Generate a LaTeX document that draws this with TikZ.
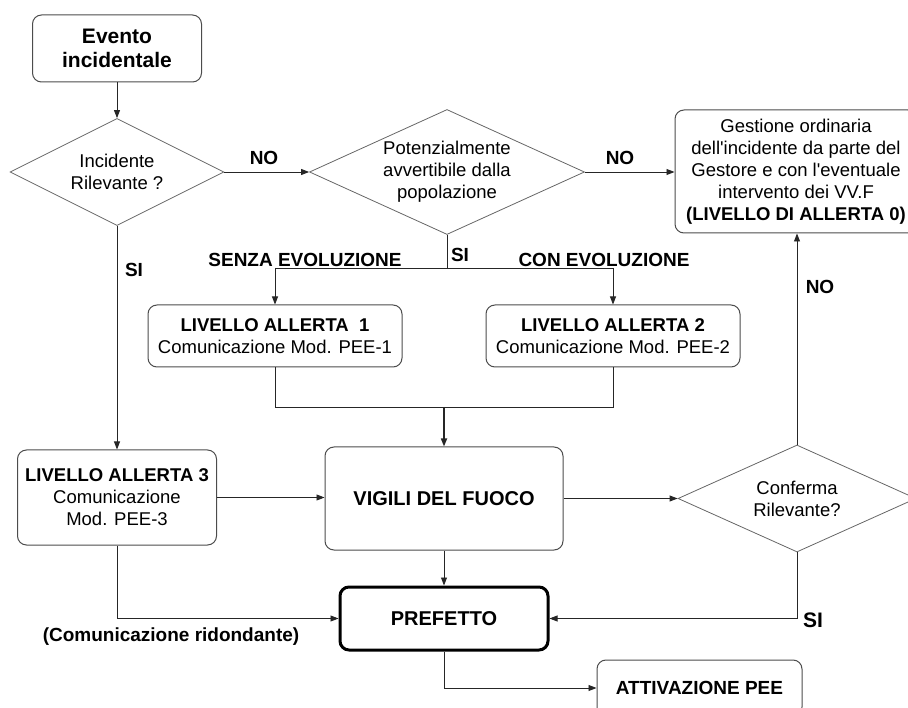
\documentclass[tikz,border=0pt]{standalone}
\usepackage{fontspec}
\setmainfont{Liberation Sans}[Ligatures=TeXOff]
\usetikzlibrary{shapes.geometric,arrows.meta}

\begin{document}
\begin{tikzpicture}[x=1pt,y=-1pt,
        box/.style={draw=black!70, line width=1pt, rounded corners=9pt, align=center, inner sep=0pt, font=\fontsize{18.5}{22}\selectfont},
        decision/.style={diamond, draw=black!60, line width=0.8pt, aspect=2, inner sep=0pt, align=center, font=\fontsize{18.5}{22}\selectfont},
        lbl/.style={font=\bfseries\fontsize{19}{22}\selectfont},
        link/.style={draw=black!85, line width=0.9pt},
        flow/.style={link, -{Triangle[length=8pt,width=6pt]}}]
        \useasboundingbox (0,0) rectangle (908,708);
        \clip (0,0) rectangle (908,708);
        % nodes
        \node[box, font=\bfseries\fontsize{21}{24}\selectfont, minimum width=169pt, minimum height=67pt] (evento) at (117,48.5) {Evento\\incidentale};
        \node[decision, minimum width=214pt, minimum height=107pt] (rilev) at (117,172) {Incidente\\Rilevante ?};
        \node[decision, minimum width=275pt, minimum height=123pt] (avvert) at (447,172) {Potenzialmente\\avvertibile dalla\\popolazione};
        \node[box, minimum width=242pt, minimum height=123pt] (gestione) at (796,171.5) {Gestione ordinaria\\dell'incidente da parte del\\Gestore e con l'eventuale\\intervento dei VV.F\\\textbf{(LIVELLO DI ALLERTA 0)}};
        \node[box, minimum width=254pt, minimum height=62pt] (liv1) at (275,336) {\textbf{LIVELLO ALLERTA\ \ 1}\\Comunicazione Mod. PEE-1};
        \node[box, minimum width=254pt, minimum height=62pt] (liv2) at (613,336) {\textbf{LIVELLO ALLERTA 2}\\Comunicazione Mod. PEE-2};
        \node[box, minimum width=199pt, minimum height=95pt] (liv3) at (117,497.5) {\textbf{LIVELLO ALLERTA 3}\\Comunicazione\\Mod. PEE-3};
        \node[box, font=\bfseries\fontsize{20}{24}\selectfont, minimum width=238pt, minimum height=103pt] (vigili) at (444,498.5) {\raisebox{-6pt}{VIGILI DEL FUOCO}};
        \node[decision, minimum width=238pt, minimum height=107pt] (conferma) at (797,498.5) {Conferma\\Rilevante?};
        \node[box, draw=black, line width=3pt, font=\bfseries\fontsize{20}{24}\selectfont, minimum width=208pt, minimum height=63pt] (prefetto) at (444,618.5) {PREFETTO};
        \node[box, font=\bfseries\fontsize{19}{22}\selectfont, minimum width=205pt, minimum height=56pt] (attiv) at (699.5,688) {ATTIVAZIONE PEE};
        % labels
        \node[lbl] (no1) at (264,158) {NO};
        \node[lbl] (no2) at (620,158) {NO};
        \node[lbl] (no3) at (820,287) {NO};
        \node[lbl] (si1) at (134,270) {SI};
        \node[lbl] (si2) at (460,255) {SI};
        \node[lbl, font=\bfseries\fontsize{21}{24}\selectfont] (si3) at (813,620) {SI};
        \node[lbl] (senza) at (305,260) {SENZA EVOLUZIONE};
        \node[lbl] (con) at (604,260) {CON EVOLUZIONE};
        \node[lbl] (ridond) at (171,637) {(Comunicazione ridondante)};
        \coordinate (split) at (0,268);
        \coordinate (merge) at (0,407);
        % connectors
        \draw[flow] (evento.south) -- (rilev.north);
        \draw[flow] (rilev.east) -- (avvert.west);
        \draw[flow] (avvert.east) -- (avvert.east -| gestione.west);
        \draw[flow] (rilev.south) -- (liv3.north);
        \draw[link] (avvert.south) -- (avvert.south |- split);
        \draw[link] (split -| liv1.north) -- (split -| liv2.north);
        \draw[flow] (split -| liv1.north) -- (liv1.north);
        \draw[flow] (split -| liv2.north) -- (liv2.north);
        \draw[link] (liv1.south) |- (merge -| liv2.south) -- (liv2.south);
        \draw[flow, line width=1.6pt] (merge -| vigili.north) -- (vigili.north);
        \draw[flow] (liv3.east) -- (liv3.east -| vigili.west);
        \draw[flow] (vigili.east) -- (conferma.west);
        \draw[flow] (conferma.north) -- (conferma.north |- gestione.south);
        \draw[flow] (conferma.south) |- (prefetto.east);
        \draw[flow] (vigili.south) -- (prefetto.north);
        \draw[flow] (liv3.south) |- (prefetto.west);
        \draw[flow] (prefetto.south) |- (attiv.west);
\end{tikzpicture}
\end{document}
